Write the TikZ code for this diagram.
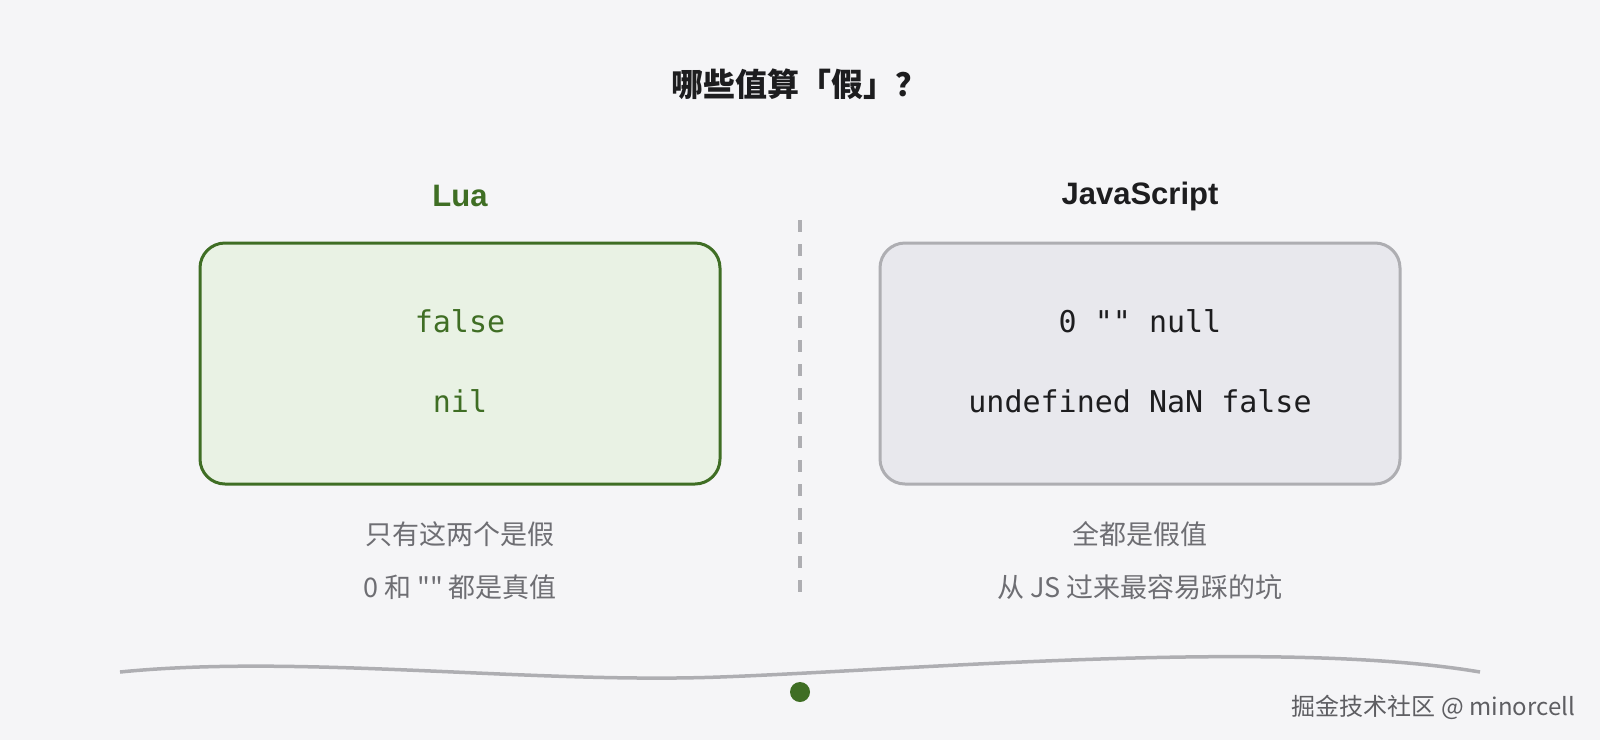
\documentclass[tikz,border=0pt]{standalone}
\usepackage{fontspec}
\setmainfont{Liberation Sans}
\setmonofont{DejaVu Sans Mono}
\newfontfamily\cjk{Noto Sans CJK SC}
\definecolor{bgcol}{HTML}{F5F5F7}
\definecolor{luagreen}{HTML}{3F6E24}
\definecolor{luafill}{HTML}{E9F2E4}
\definecolor{jsline}{HTML}{AEAEB2}
\definecolor{jsfill}{HTML}{E8E8ED}
\definecolor{ink}{HTML}{1D1D1F}
\definecolor{note}{HTML}{6E6E73}
\begin{document}
\begin{tikzpicture}[x=0.5pt, y=-0.5pt,
	panel/.style={draw, line width=1.5pt, rounded corners=12.5pt, minimum width=260pt, minimum height=120.5pt},
	head/.style={font=\fontsize{15.5}{18}\selectfont\bfseries},
	code/.style={font=\fontsize{15}{18}\selectfont\ttfamily},
	remark/.style={note, font=\fontsize{13.5}{16}\selectfont\cjk}]
	\fill[bgcol] (0, 0) rectangle (1600, 740);
	\useasboundingbox (0, 0) rectangle (1600, 740);
	\node[ink, font=\fontsize{16}{19}\selectfont\cjk\bfseries] (title) at (799, 84) {哪些值算「假」？};
	% left: Lua
	\node[head, luagreen] (lua) at (460, 196) {Lua};
	\node[panel, luagreen, fill=luafill] (luabox) at (460, 363.5) {};
	\node[code, luagreen] (luafalse) at (460, 321) {false};
	\node[code, luagreen] (luanil) at (460, 401) {nil};
	\node[remark] (luanote) at (460, 534) {只有这两个是假};
	\node[remark] (luanote2) at (460, 587) {0 和 "" 都是真值};
	% right: JavaScript
	\node[head, ink] (js) at (1140, 196) {JavaScript};
	\node[panel, jsline, fill=jsfill] (jsbox) at (1140, 363.5) {};
	\node[code, ink] (jsrow) at (1140, 321) {0 "" null};
	\node[code, ink] (jsrow2) at (1140, 401) {undefined NaN false};
	\node[remark] (jsnote) at (1140, 534) {全都是假值};
	\node[remark] (jsnote2) at (1140, 587) {从 JS 过来最容易踩的坑};
	% divider
	\coordinate (divtop) at (800, 220);
	\coordinate (divbot) at (800, 592);
	\draw[jsline, line width=2pt, dash pattern=on 6pt off 6pt] (divtop) -- (divbot);
	% wave and dot
	\coordinate (wavea) at (120, 672);
	\coordinate (waveb) at (720, 677);
	\coordinate (wavec) at (1480, 672);
	\draw[jsline, line width=1.75pt] (wavea) .. controls (300, 654) and (530, 684) .. (waveb) .. controls (910, 670) and (1280, 638) .. (wavec);
	\fill[luagreen] (800, 692) circle (10) node (dot) {};
	\node[note!85!black, font=\fontsize{12}{14}\selectfont\cjk, anchor=east] (mark) at (1582, 707) {掘金技术社区 @ minorcell};
\end{tikzpicture}
\end{document}
